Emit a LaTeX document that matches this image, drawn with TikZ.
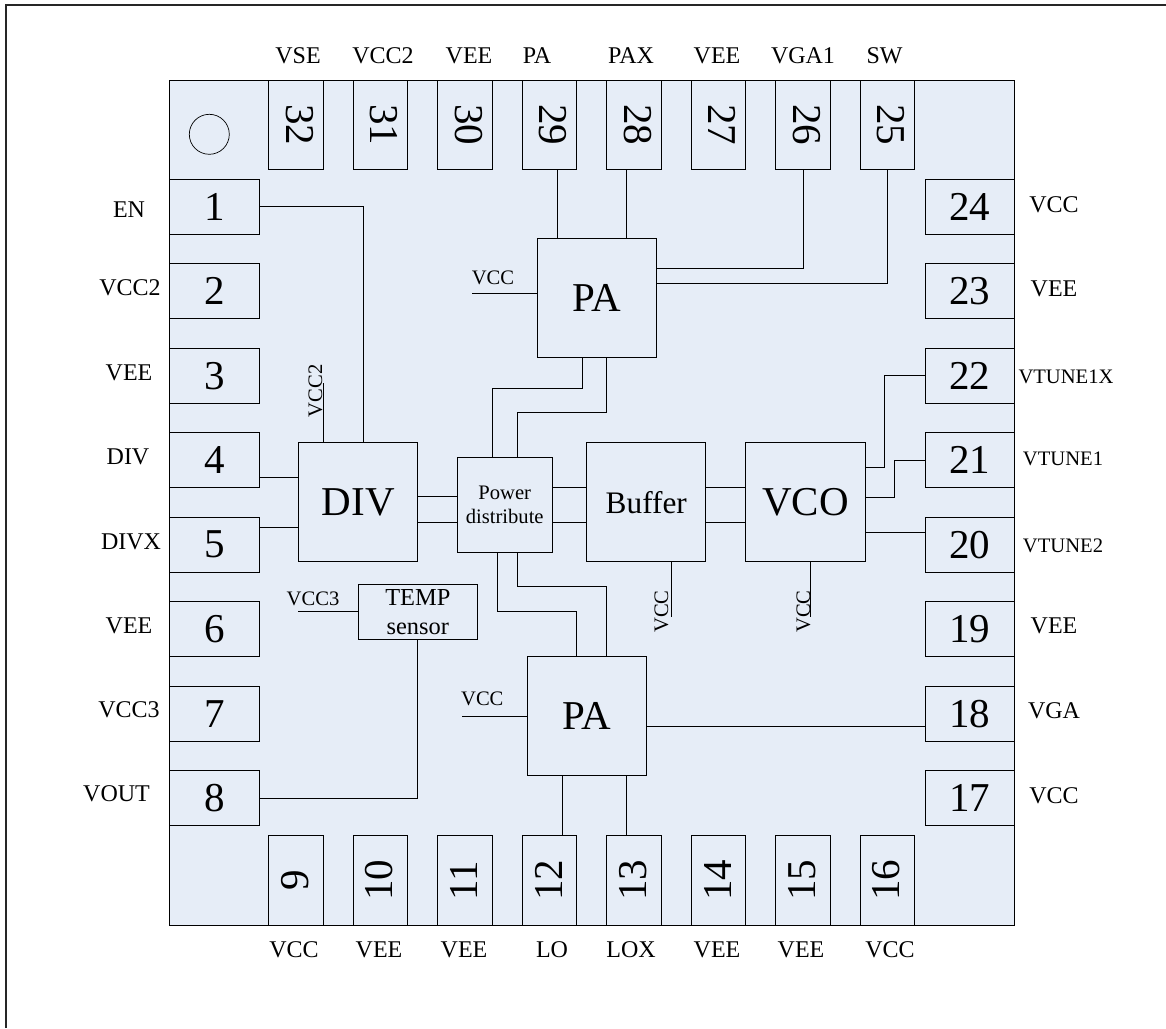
\documentclass[tikz,border=0pt]{standalone}
\usepackage{graphicx}
\usepackage{fontspec}
\setmainfont{Liberation Serif}
\definecolor{chipfill}{HTML}{E6EDF7}
\tikzset{
  x=1pt,y=-1pt,
  wire/.style={draw=black,line width=0.9pt},
  box/.style={draw=black,line width=0.9pt,fill=chipfill,inner sep=0pt,outer sep=0pt,align=center},
  pinh/.style={box,minimum width=89.3pt,minimum height=54.7pt,font=\fontsize{41}{41}\selectfont},
  pinv/.style={box,minimum width=54.6pt,minimum height=89.5pt,font=\fontsize{41}{41}\selectfont},
  bigblock/.style={box,minimum width=119.2pt,minimum height=119.2pt,font=\fontsize{41}{41}\selectfont},
  outer/.style={inner sep=0pt,anchor=base,font=\fontsize{24}{24}\selectfont},
  small/.style={inner sep=0pt,anchor=base,font=\fontsize{20.6}{20.6}\selectfont},
  smallr/.style={inner sep=0pt,anchor=base,rotate=90,font=\fontsize{20.6}{20.6}\selectfont},
}
\begin{document}
\begin{tikzpicture}
\useasboundingbox (0,0) rectangle (1166,1028);
% page frame
\coordinate (fa) at (6,1028);
\coordinate (fb) at (6,5);
\coordinate (fc) at (1166,5);
\draw[line width=1.3pt,draw=black!85] (fa) -- (fb) -- (fc);
% chip
\node[box,minimum width=844.6pt,minimum height=845pt] (chip) at (592,502.5) {};
\node[draw=black,line width=0.7pt,circle,minimum size=40pt,inner sep=0pt] (dot) at (209.3,134.3) {};
% pins
\foreach \n in {1,...,8}{
  \pgfmathsetmacro\yy{206.65+(\n-1)*84.49}
  \node[pinh] (p\n) at (214.35,\yy) {\n};
}
\foreach \n in {24,23,...,17}{
  \pgfmathsetmacro\yy{206.65+(24-\n)*84.49}
  \node[pinh] (p\n) at (969.65,\yy) {\n};
}
\foreach \n in {32,31,...,25}{
  \pgfmathsetmacro\xx{296+(32-\n)*84.5}
  \node[pinv] (p\n) at (\xx,124.75) {\hspace*{7pt}\rotatebox{-90}{\n}};
}
\foreach \n in {9,...,16}{
  \pgfmathsetmacro\xx{296+(\n-9)*84.5}
  \node[pinv] (p\n) at (\xx,880.25) {\rotatebox{90}{\n}\hspace*{2pt}};
}
% blocks
\node[bigblock] (pat) at (596.7,298.3) {PA};
\node[bigblock] (pab) at (587,716) {PA};
\node[bigblock] (div) at (358.2,502.2) {DIV};
\node[bigblock,font=\fontsize{31.3}{31.3}\selectfont] (buf) at (646.3,502.2) {Buffer};
\node[bigblock] (vco) at (805.5,502.2) {VCO};
\node[box,minimum width=94.7pt,minimum height=94.7pt,font=\fontsize{20.6}{24.7}\selectfont] (pd) at (504.7,504.7) {Power\\distribute};
\node[box,minimum width=119.7pt,minimum height=55.3pt,font=\fontsize{24.4}{29}\selectfont] (temp) at (417.8,611.7) {TEMP\\sensor};
% free ends
\coordinate (fv2) at (323.3,383);
\coordinate (fv3) at (298.3,611.7);
\coordinate (fvt) at (472,293);
\coordinate (fvb) at (462.3,716);
\coordinate (fvbuf) at (671.3,616.7);
\coordinate (fvvco) at (810.3,616.7);
% connectors
\draw[wire] (p1.east) -| ([xshift=4.8]div.north);
\draw[wire] (fv2) -- (fv2 |- div.north);
\draw[wire] ([yshift=-17]p4.east) -- ([yshift=-17]p4.east -| div.west);
\draw[wire] ([yshift=17.3]p5.east) -- ([yshift=17.3]p5.east -| div.west);
\foreach \s in {8.7,-17.6}{
  \draw[wire] ([yshift=\s]pd.west) -- ([yshift=\s]pd.west -| div.east);
}
\foreach \s in {17.7,-17.6}{
  \draw[wire] ([yshift=\s]pd.east) -- ([yshift=\s]pd.east -| buf.west);
  \draw[wire] ([yshift=\s]pd.east -| buf.east) -- ([yshift=\s]pd.east -| vco.west);
}
\draw[wire] ([xshift=7.5]p29.south) -- ([xshift=7.5]p29.south |- pat.north);
\draw[wire] ([xshift=-8]p28.south) -- ([xshift=-8]p28.south |- pat.north);
\draw[wire] (p26.south) |- ([yshift=30.3]pat.east);
\draw[wire] (p25.south) |- ([yshift=15.3]pat.east);
\draw[wire] (fvt) -- (fvt -| pat.west);
\draw[wire] ([xshift=-12.4]pd.north) -- ++(0,-69.3) -| ([xshift=-14.7]pat.south);
\draw[wire] ([xshift=12.6]pd.north) -- ++(0,-44.6) -| ([xshift=10]pat.south);
\draw[wire] ([xshift=-7.4]pd.south) -- ++(0,59.7) -| ([xshift=-10.3]pab.north);
\draw[wire] ([xshift=12.6]pd.south) -- ++(0,34.7) -| ([xshift=19.7]pab.north);
\draw[wire] (fv3) -- (temp.west);
\draw[wire] (temp.south) |- (p8.east);
\draw[wire] (fvb) -- (pab.west);
\draw[wire] ([yshift=-10]pab.east) -- ([yshift=-10]pab.east -| p18.west);
\draw[wire] ([xshift=-25]pab.south) -- ([xshift=-25]pab.south |- p12.north);
\draw[wire] ([xshift=39.7]pab.south) -- ([xshift=39.7]pab.south |- p13.north);
\draw[wire] (fvbuf) -- (fvbuf |- buf.south);
\draw[wire] (fvvco) -- (fvvco |- vco.south);
\draw[wire] ([yshift=34.9]vco.east) -- ++(19.4,0) |- (p22.west);
\draw[wire] ([yshift=5.2]vco.east) -- ++(29.4,0) |- (p21.west);
\draw[wire] ([yshift=-30.1]vco.east) -- ([yshift=-30.1]vco.east -| p20.west);
% outer labels
\node[outer] (t32) at (298,63) {VSE};
\node[outer] (t31) at (383,63) {VCC2};
\node[outer] (t30) at (469,63) {VEE};
\node[outer] (t29) at (537,63) {PA};
\node[outer] (t28) at (631,63) {PAX};
\node[outer] (t27) at (717,63) {VEE};
\node[outer] (t26) at (803,63) {VGA1};
\node[outer] (t25) at (884.5,63) {SW};
\node[outer] (b9) at (294,957) {VCC};
\node[outer] (b10) at (379,957) {VEE};
\node[outer] (b11) at (464,957) {VEE};
\node[outer] (b12) at (552,957) {LO};
\node[outer] (b13) at (631,957) {LOX};
\node[outer] (b14) at (717,957) {VEE};
\node[outer] (b15) at (801,957) {VEE};
\node[outer] (b16) at (890,957) {VCC};
\node[outer] (l1) at (129,217) {EN};
\node[outer] (l2) at (130,295) {VCC2};
\node[outer] (l3) at (129,380) {VEE};
\node[outer] (l4) at (128,464) {DIV};
\node[outer] (l5) at (131,549) {DIVX};
\node[outer] (l6) at (129,633) {VEE};
\node[outer] (l7) at (129,717) {VCC3};
\node[outer] (l8) at (116.5,801) {VOUT};
\node[outer] (r24) at (1054,212) {VCC};
\node[outer] (r23) at (1054,296) {VEE};
\node[small] (r22) at (1066,383) {VTUNE1X};
\node[small] (r21) at (1063,465) {VTUNE1};
\node[small] (r20) at (1063,552) {VTUNE2};
\node[outer] (r19) at (1054,633) {VEE};
\node[outer] (r18) at (1054,718) {VGA};
\node[outer] (r17) at (1054,803) {VCC};
% inner labels
\node[small] (i1) at (493,284) {VCC};
\node[small] (i2) at (482.3,705) {VCC};
\node[small] (i3) at (313,605.7) {VCC3};
\node[smallr] (i4) at (322,391) {VCC2};
\node[smallr] (i5) at (668,611.5) {VCC};
\node[smallr] (i6) at (810,611.5) {VCC};
\end{tikzpicture}
\end{document}
